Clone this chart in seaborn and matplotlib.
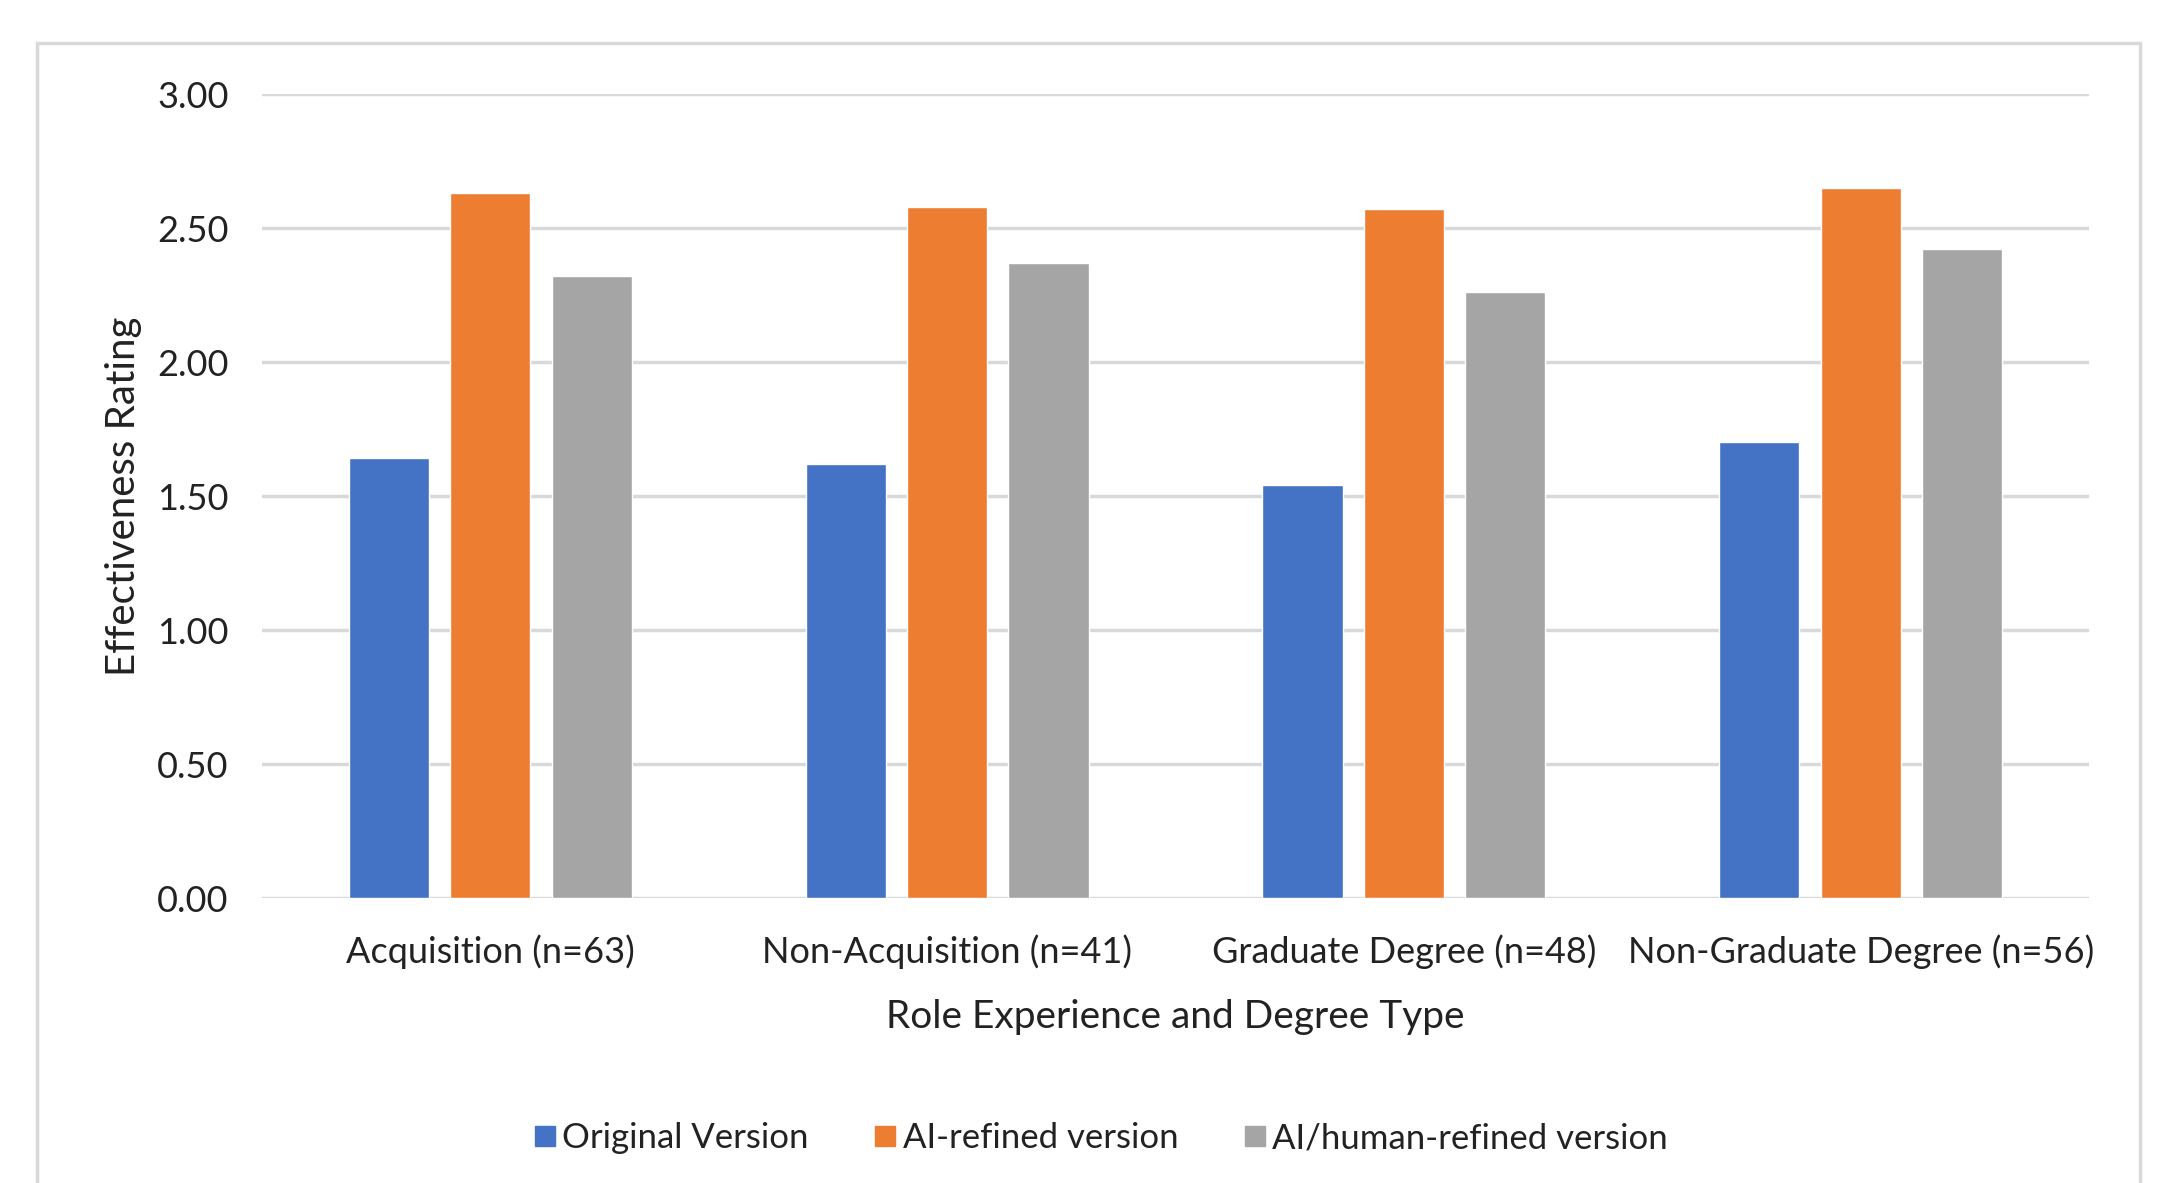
import matplotlib
matplotlib.use("Agg")
import matplotlib.pyplot as plt
import seaborn as sns
import pandas as pd
from matplotlib.patches import Rectangle
from matplotlib.lines import Line2D

categories = ["Acquisition (n=63)", "Non-Acquisition (n=41)",
              "Graduate Degree (n=48)", "Non-Graduate Degree (n=56)"]
series = ["Original Version", "AI-refined version", "AI/human-refined version"]
original = [1.64, 1.62, 1.54, 1.70]
ai_refined = [2.63, 2.58, 2.57, 2.65]
ai_human = [2.32, 2.37, 2.26, 2.42]
yticks = [0.0, 0.5, 1.0, 1.5, 2.0, 2.5, 3.0]
colors = ["#4472C4", "#ED7D31", "#A5A5A5"]

rows = []
for s, vals in zip(series, [original, ai_refined, ai_human]):
    for c, v in zip(categories, vals):
        rows.append({"Category": c, "Series": s, "Value": v})
df = pd.DataFrame(rows)

sns.set_theme(style="white")
plt.rcParams["font.family"] = ["Lato", "DejaVu Sans"]

fig = plt.figure(figsize=(21.59, 11.83), dpi=100)
W, H = 2159, 1183
ax = fig.add_axes([262 / W, 1 - 898 / H, (2089 - 262) / W, (898 - 94) / H])

# outer frame
fig.patches.append(Rectangle((37 / W, -0.05), (2140 - 37) / W, 1.05 - 43 / H,
                             transform=fig.transFigure, fill=False,
                             edgecolor="#d9d9d9", linewidth=2.5, zorder=0))

sns.barplot(data=df, x="Category", y="Value", hue="Series", palette=colors,
            width=0.666, gap=0.21, ax=ax, legend=False, saturation=1,
            errorbar=None, zorder=3)

ax.set_ylim(0, 3.0)
ax.set_xlim(-0.5, 3.5)
ax.set_yticks(yticks)
ax.set_yticklabels([f"{t:.2f}" for t in yticks], fontsize=26, color="#222222")
ax.tick_params(axis="x", labelsize=26, colors="#222222", pad=26, length=0)
ax.tick_params(axis="y", pad=24, length=0)
ax.yaxis.grid(True, color="#d9d9d9", linewidth=2.5, zorder=0)
ax.set_axisbelow(True)
for sp in ax.spines.values():
    sp.set_visible(False)
ax.set_xlabel("Role Experience and Degree Type", fontsize=28, color="#222222", labelpad=22)
ax.set_ylabel("Effectiveness Rating", fontsize=29, color="#222222", labelpad=11)

handles = [Line2D([0], [0], marker="s", linestyle="none", markersize=15,
                  markerfacecolor=c, markeredgecolor=c) for c in colors]
fig.legend(handles, series, loc="center", bbox_to_anchor=(1096 / W, 1 - 1138 / H),
           ncol=3, frameon=False, fontsize=25, handletextpad=-0.1, columnspacing=1.6,
           handlelength=1.2, labelcolor="#222222")

fig.savefig("out.png", dpi=100)
